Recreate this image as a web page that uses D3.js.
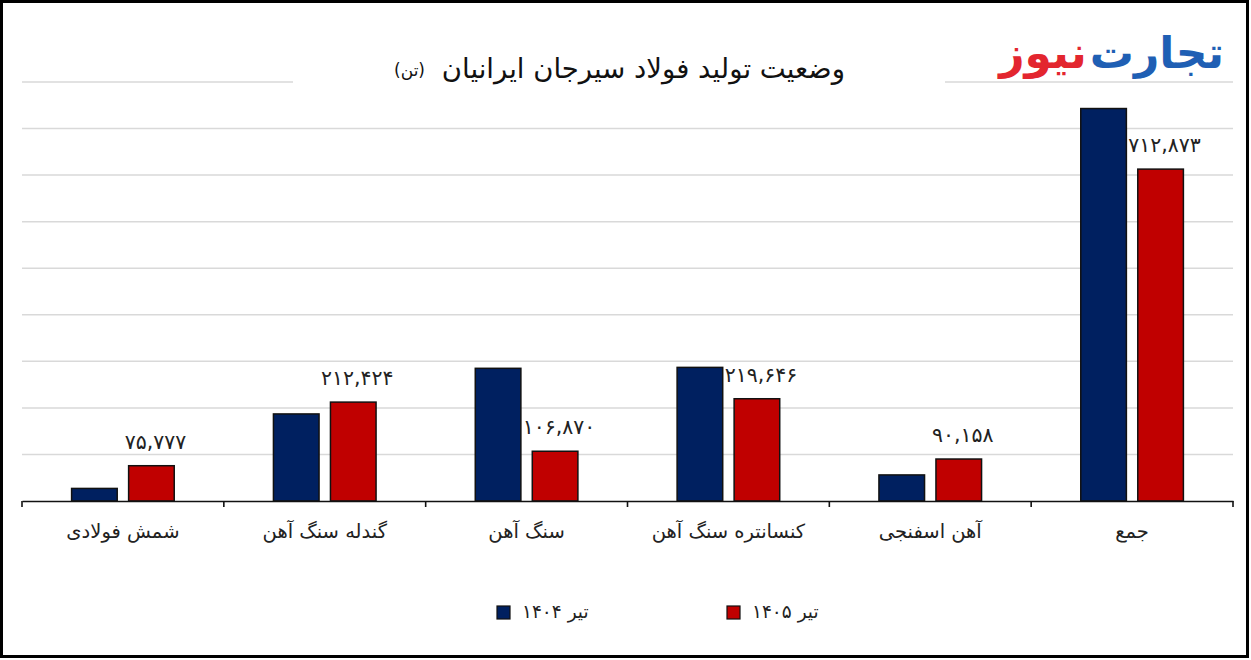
<!DOCTYPE html>
<html><head><meta charset="utf-8">
<script src="https://cdn.jsdelivr.net/npm/d3@7/dist/d3.min.js"></script>
<style>
html,body{margin:0;padding:0;background:#fff;}
svg{display:block;}
text{font-family:"DejaVu Sans",sans-serif;}
</style></head>
<body>
<svg id="chart" width="1251" height="660"></svg>
<script>
const categories = ["شمش فولادی","گندله سنگ آهن","سنگ آهن","کنسانتره سنگ آهن","آهن اسفنجی","جمع"];
const seriesNames = ["تیر ۱۴۰۴","تیر ۱۴۰۵"];
const values1404 = [27000, 187000, 285000, 287000, 56000, 843000];
const values1405 = [75777, 212424, 106870, 219646, 90158, 712873];
const gridTicks = [100000,200000,300000,400000,500000,600000,700000,800000,900000];
const colors = ["#002060","#C00000"];
const title = "وضعیت تولید فولاد سیرجان ایرانیان";
const unit = "(تن)";
const logoParts = ["تجارت","نیوز"];
const logoColors = ["#1f5fb4","#e3262f"];

const svg = d3.select("#chart");

const x0 = d3.scaleBand().domain(categories).range([22, 1233]).paddingInner(0).paddingOuter(0);
const x1 = d3.scaleBand().domain(seriesNames).range([0, x0.bandwidth()]).paddingInner(0.2).paddingOuter(0.87);
const y = d3.scaleLinear().domain([0, 900000]).range([501, 82]);

const toFa = s => s.replace(/\d/g, d => "۰۱۲۳۴۵۶۷۸۹"[+d]);
const fmt = v => toFa(d3.format(",")(v));

// gridlines
svg.append("g").selectAll("line").data(gridTicks).join("line")
  .attr("x1", 22).attr("x2", 1233)
  .attr("y1", d => y(d)).attr("y2", d => y(d))
  .attr("stroke", "#d9d9d9").attr("stroke-width", 1.5);

// title background to break top gridline
svg.append("rect").attr("x", 293).attr("y", 40).attr("width", 652).attr("height", 60).attr("fill", "#fff");

// bars
const data = categories.map((c, i) => ({cat: c, vals: [values1404[i], values1405[i]]}));
const groups = svg.append("g").selectAll("g").data(data).join("g")
  .attr("transform", d => `translate(${x0(d.cat)},0)`);
groups.selectAll("rect").data(d => d.vals.map((v, j) => ({s: seriesNames[j], v, j}))).join("rect")
  .attr("x", d => x1(d.s)).attr("width", x1.bandwidth())
  .attr("y", d => y(d.v)).attr("height", d => y(0) - y(d.v))
  .attr("fill", d => colors[d.j]).attr("stroke", "#111").attr("stroke-width", 1.5);

// data labels (1405 series)
groups.append("text")
  .attr("x", d => x1(seriesNames[1]) + x1.bandwidth() / 2 + 4)
  .attr("y", d => y(d.vals[1]) - 17)
  .attr("text-anchor", "middle").attr("font-size", 20.5).attr("fill", "#222")
  .text(d => fmt(d.vals[1]));

// x axis
const xAxis = d3.axisBottom(x0).tickSize(0).tickFormat("");
const ax = svg.append("g").attr("transform", "translate(0,501)").call(xAxis);
ax.select(".domain").attr("stroke", "#111").attr("stroke-width", 1.6);
const bounds = categories.map(c => x0(c)).concat([x0.range()[1]]);
svg.append("g").selectAll("line").data(bounds).join("line")
  .attr("x1", d => d).attr("x2", d => d).attr("y1", 501).attr("y2", 507)
  .attr("stroke", "#111").attr("stroke-width", 1.6);
svg.append("g").selectAll("text").data(categories).join("text")
  .attr("x", d => x0(d) + x0.bandwidth() / 2).attr("y", 538)
  .attr("text-anchor", "middle").attr("font-size", 19.5).attr("fill", "#222")
  .attr("direction", "rtl")
  .text(d => d);

// title
svg.append("text").attr("x", 845).attr("y", 78).attr("text-anchor", "start")
  .attr("direction", "rtl").attr("fill", "#111").attr("font-size", 27.5).text(title);
svg.append("text").attr("x", 425).attr("y", 76).attr("text-anchor", "start")
  .attr("direction", "rtl").attr("fill", "#111").attr("font-size", 17).text(unit);

// logo
const l1 = svg.append("text").attr("x", 1224).attr("y", 68).attr("text-anchor", "start").attr("direction", "rtl")
  .attr("font-size", 44).attr("font-weight", "bold").attr("fill", logoColors[0]).text(logoParts[0]);
const b1 = l1.node().getBBox();
svg.append("text").attr("x", b1.x - 3).attr("y", 68).attr("text-anchor", "start").attr("direction", "rtl")
  .attr("font-size", 44).attr("font-weight", "bold").attr("fill", logoColors[1]).text(logoParts[1]);

// legend
const legX = [497, 727];
const lg = svg.append("g").selectAll("g").data(seriesNames).join("g")
  .attr("transform", (d, i) => `translate(${legX[i]},606)`);
lg.append("rect").attr("width", 13).attr("height", 13)
  .attr("fill", (d, i) => colors[i]).attr("stroke", "#111").attr("stroke-width", 1.2);
lg.append("text").attr("x", 25).attr("y", 12).attr("font-size", 18.5).attr("fill", "#222")
  .attr("direction", "rtl").attr("text-anchor", "end").text(d => d);

// frame
svg.append("rect").attr("x", 1.5).attr("y", 1.5).attr("width", 1246).attr("height", 655)
  .attr("fill", "none").attr("stroke", "#000").attr("stroke-width", 3);
</script>
</body></html>
